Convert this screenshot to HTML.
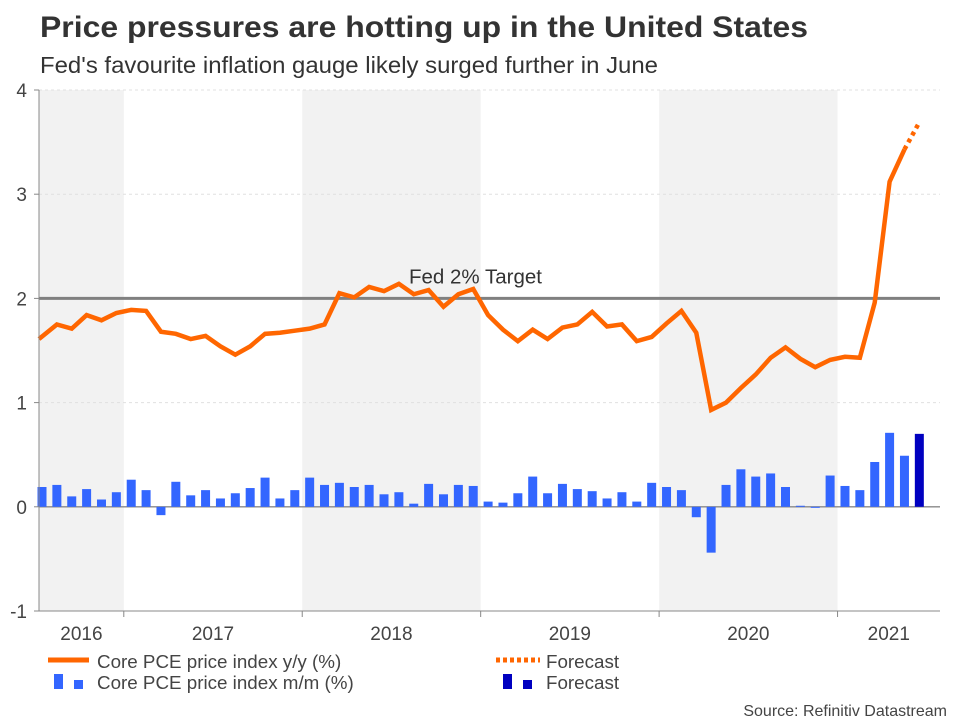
<!DOCTYPE html>
<html><head><meta charset="utf-8"><style>
body{margin:0;background:#fff;width:960px;height:720px;overflow:hidden}
svg{display:block;font-family:"Liberation Sans",Arial,sans-serif}
</style></head><body>
<svg id="chart" width="960" height="720" viewBox="0 0 960 720">
<text x="40" y="37" font-size="30" font-weight="bold" fill="#333" textLength="768" lengthAdjust="spacingAndGlyphs">Price pressures are hotting up in the United States</text>
<text x="40" y="73" font-size="23" fill="#333" textLength="618" lengthAdjust="spacingAndGlyphs">Fed's favourite inflation gauge likely surged further in June</text>
<g id="bands"></g><g id="grid"></g><g id="bars"></g><g id="lines"></g><g id="axes"></g>
<g>
<line x1="48" y1="660" x2="89" y2="660" stroke="#ff6600" stroke-width="5"/>
<text x="97" y="668" font-size="18.8" fill="#444">Core PCE price index y/y (%)</text>
<rect x="54" y="674" width="9" height="15" fill="#3366ff"/>
<rect x="74" y="680" width="9" height="9" fill="#3366ff"/>
<text x="97" y="689" font-size="18.8" fill="#444">Core PCE price index m/m (%)</text>
<line x1="496" y1="660" x2="540" y2="660" stroke="#ff6600" stroke-width="5" stroke-dasharray="4,3"/>
<text x="546" y="668" font-size="18.8" fill="#444">Forecast</text>
<rect x="503" y="674" width="9" height="15" fill="#0000c0"/>
<rect x="523" y="680" width="9" height="9" fill="#0000c0"/>
<text x="546" y="689" font-size="18.8" fill="#444">Forecast</text>
</g>
<text x="947" y="716" font-size="16" fill="#444" text-anchor="end">Source: Refinitiv Datastream</text>
</svg>
<script>
const yoy=[1.63,1.75,1.71,1.84,1.79,1.86,1.89,1.88,1.68,1.66,1.61,1.64,1.54,1.46,1.54,1.66,1.67,1.69,1.71,1.75,2.05,2.01,2.11,2.07,2.14,2.04,2.08,1.92,2.04,2.09,1.84,1.70,1.59,1.70,1.61,1.72,1.75,1.87,1.73,1.75,1.59,1.63,1.76,1.88,1.67,0.93,1.00,1.14,1.27,1.43,1.53,1.42,1.34,1.41,1.44,1.43,1.96,3.12,3.43];
const yoyForecast=3.69;
const mom=[0.19,0.21,0.10,0.17,0.07,0.14,0.26,0.16,-0.08,0.24,0.11,0.16,0.08,0.13,0.18,0.28,0.08,0.16,0.28,0.21,0.23,0.19,0.21,0.12,0.14,0.03,0.22,0.12,0.21,0.20,0.05,0.04,0.13,0.29,0.13,0.22,0.17,0.15,0.08,0.14,0.05,0.23,0.19,0.16,-0.10,-0.44,0.21,0.36,0.29,0.32,0.19,0.01,-0.01,0.30,0.20,0.16,0.43,0.71,0.49];
const momForecast=0.70;
const years=["2016","2017","2018","2019","2020","2021"];
const yTicks=[-1,0,1,2,3,4];
const target=2;
const NS="http://www.w3.org/2000/svg";
const L=39,R=940,T=90,B=611,yMin=-1,yMax=4;
const startMonth=6;
function xm(m){return 42+(m-startMonth)*14.87;}
function xi(i){return xm(startMonth+i);}
function xBoundary(yearIdx){return xm(yearIdx*12)-7.43;}
function y(v){return B-(v-yMin)/(yMax-yMin)*(B-T);}
function mk(tag,attrs,parent){const e=document.createElementNS(NS,tag);for(const k in attrs)e.setAttribute(k,attrs[k]);document.getElementById(parent).appendChild(e);return e;}
years.forEach((yr,k)=>{
  const a=Math.max(L,xBoundary(k)),b=Math.min(R,xBoundary(k+1));
  if(k%2===0){const r=mk('rect',{x:a,y:T,width:b-a,height:B-T,fill:'#f2f2f2'},'bands');
  
  }
  const t=mk('text',{x:(a+b)/2,y:B+29,'font-size':19,fill:'#444','text-anchor':'middle'},'axes');t.textContent=yr;
  
  
  if(k>0){const tk=mk('line',{x1:xBoundary(k),x2:xBoundary(k),y1:B,y2:B+6,stroke:'#888'},'axes');
  
  }
});
yTicks.forEach(v=>{
  if(v!==0&&v!==target&&v!==yMin){const g=mk('line',{x1:L,x2:R,y1:y(v),y2:y(v),stroke:'#e0e0e0','stroke-dasharray':'3,3'},'grid');
  
  }
  const tk=mk('line',{x1:L-5,x2:L,y1:y(v),y2:y(v),stroke:'#888'},'axes');
  
  
  const t=mk('text',{x:27,y:y(v)+7,'font-size':19,fill:'#444','text-anchor':'end'},'axes');t.textContent=v;
  
  
});
const z=mk('line',{x1:L,x2:R,y1:y(0),y2:y(0),stroke:'#888','stroke-width':1.3},'grid');


const bw=9;
mom.forEach((v,i)=>{
  const r=mk('rect',{x:xi(i)-bw/2,y:Math.min(y(v),y(0)),width:bw,height:Math.abs(y(v)-y(0)),fill:'#3366ff'},'bars');
  
  
});
const fb=mk('rect',{x:xi(mom.length)-bw/2,y:Math.min(y(momForecast),y(0)),width:bw,height:Math.abs(y(momForecast)-y(0)),fill:'#0000c0'},'bars');


const tl=mk('line',{x1:L,x2:R,y1:y(target),y2:y(target),stroke:'#808080','stroke-width':3},'lines');


const tt=mk('text',{x:409,y:y(target)-15,'font-size':20.5,fill:'#333'},'lines');tt.textContent='Fed 2% Target';


const pts=yoy.map((v,i)=>[xi(i),y(v)]);
pts[0]=[L,y(yoy[0])+2];
const pl=mk('polyline',{points:pts.map(p=>p.join(',')).join(' '),fill:'none',stroke:'#ff6600','stroke-width':4.5,'stroke-linejoin':'miter'},'lines');


const n=yoy.length;
const fl=mk('line',{x1:xi(n-1),y1:y(yoy[n-1]),x2:xi(n),y2:y(yoyForecast),stroke:'#ff6600','stroke-width':4.5,'stroke-dasharray':'4,4'},'lines');


const ya=mk('line',{x1:L,x2:L,y1:T,y2:B,stroke:'#888'},'axes');


const xa=mk('line',{x1:L,x2:R,y1:B,y2:B,stroke:'#888'},'axes');


</script>
</body></html>
